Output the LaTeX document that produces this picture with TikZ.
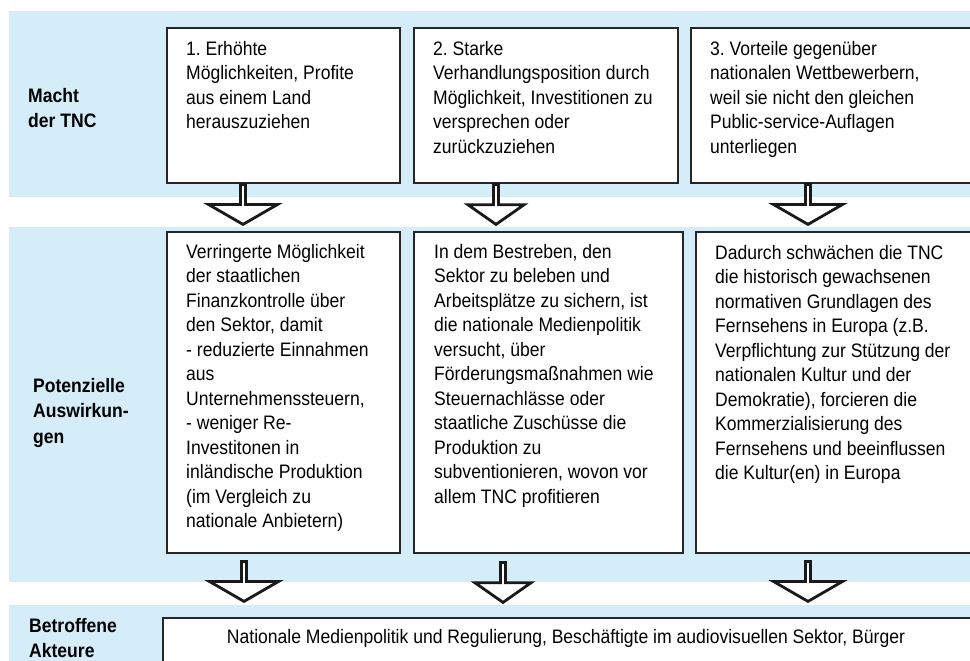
\documentclass[tikz,border=0pt]{standalone}
\usepackage{fontspec}
\setmainfont[FakeStretch=0.9]{Liberation Sans}
\usetikzlibrary{shapes.arrows, positioning}
\definecolor{bandblue}{RGB}{213,236,249}
\frenchspacing

\begin{document}
\begin{tikzpicture}[x=1pt, y=-1pt,
        band/.style={fill=bandblue},
        panel/.style={rectangle, draw=black!85, line width=2.4pt, fill=white, anchor=north west, inner sep=0pt},
        paneltext/.style={anchor=north west, inner sep=0pt, align=left, font=\fontsize{19.5}{24.5}\selectfont},
        rowlabel/.style={anchor=north west, inner sep=0pt, align=left, font=\fontsize{19.5}{25.5}\selectfont\bfseries},
        flow/.style={single arrow, draw=black!90, line width=2.8pt, fill=white, rotate=-90, anchor=tail, inner sep=0pt, minimum width=69pt, minimum height=40pt, single arrow head extend=18.5pt, single arrow tip angle=120},
        slimflow/.style={flow, minimum width=56pt, single arrow head extend=14pt, single arrow tip angle=110}
    ]
    \useasboundingbox (0,0) rectangle (970,661);
    \clip (0,0) rectangle (970,661);
    % bands
    \fill[band] (9,11) rectangle (990,197);
    \fill[band] (9,227) rectangle (990,582);
    \fill[band] (9,605) rectangle (990,680);
    % row labels
    \node[rowlabel] (macht) at (28,87.8) {Macht\\der TNC};
    \node[rowlabel] (potenz) at (33,378) {Potenzielle\\Auswirkun-\\gen};
    \node[rowlabel] (akteure) at (29,618) {Betroffene\\Akteure};
    % power boxes
    \node[panel, minimum width=233pt, minimum height=155pt] (pow1) at (166,27) {};
    \node[panel, minimum width=264pt, minimum height=155pt] (pow2) at (413,27) {};
    \node[panel, minimum width=300pt, minimum height=155pt] (pow3) at (690,27) {};
    \node[paneltext] (pow1txt) at ([shift={(20,13.8)}]pow1.north west) {1. Erhöhte\\Möglichkeiten, Profite\\aus einem Land\\herauszuziehen};
    \node[paneltext] (pow2txt) at ([shift={(20,13.8)}]pow2.north west) {2. Starke\\Verhandlungsposition durch\\Möglichkeit, Investitionen zu\\versprechen oder\\zurückzuziehen};
    \node[paneltext] (pow3txt) at ([shift={(20,13.8)}]pow3.north west) {3. Vorteile gegenüber\\nationalen Wettbewerbern,\\weil sie nicht den gleichen\\Public-service-Auflagen\\unterliegen};
    % effect boxes
    \node[panel, minimum width=233pt, minimum height=321pt] (eff1) at (166,231) {};
    \node[panel, minimum width=269pt, minimum height=321pt] (eff2) at (413,231) {};
    \node[panel, minimum width=300pt, minimum height=321pt] (eff3) at (695,231) {};
    \node[paneltext] (eff1txt) at ([shift={(20,12.8)}]eff1.north west) {Verringerte Möglichkeit\\der staatlichen\\Finanzkontrolle über\\den Sektor, damit\\- reduzierte Einnahmen\\aus\\Unternehmenssteuern,\\- weniger Re-\\Investitonen in\\inländische Produktion\\(im Vergleich zu\\nationale Anbietern)};
    \node[paneltext] (eff2txt) at ([shift={(21,12.8)}]eff2.north west) {In dem Bestreben, den\\Sektor zu beleben und\\Arbeitsplätze zu sichern, ist\\die nationale Medienpolitik\\versucht, über\\Förderungsmaßnahmen wie\\Steuernachlässe oder\\staatliche Zuschüsse die\\Produktion zu\\subventionieren, wovon vor\\allem TNC profitieren};
    \node[paneltext] (eff3txt) at ([shift={(20,13.8)}]eff3.north west) {Dadurch schwächen die TNC\\die historisch gewachsenen\\normativen Grundlagen des\\Fernsehens in Europa (z.B.\\Verpflichtung zur Stützung der\\nationalen Kultur und der\\Demokratie), forcieren die\\Kommerzialisierung des\\Fernsehens und beeinflussen\\die Kultur(en) in Europa};
    % actors box
    \node[panel, minimum width=830pt, minimum height=80pt] (act) at (162,617) {};
    \node[font=\fontsize{19.5}{24.5}\selectfont, inner sep=0pt, anchor=base] (acttxt) at (566,643) {Nationale Medienpolitik und Regulierung, Beschäftigte im audiovisuellen Sektor, Bürger};
    % block arrows
    \node[flow] (arr1) at (243,183) {};
    \node[slimflow] (arr2) at (496,183) {};
    \node[flow] (arr3) at (808,183) {};
    \node[flow] (arr4) at (244,560) {};
    \node[slimflow] (arr5) at (503,561) {};
    \node[flow] (arr6) at (808,560) {};
\end{tikzpicture}
\end{document}
